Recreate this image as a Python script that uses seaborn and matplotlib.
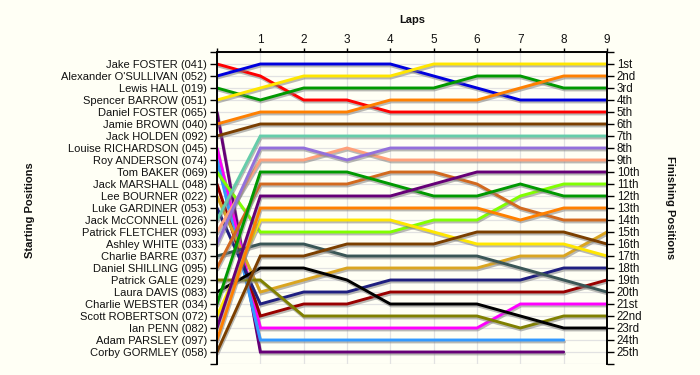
import matplotlib
matplotlib.use('Agg')
import matplotlib.pyplot as plt
import matplotlib.patheffects as pe
import numpy as np
import pandas as pd
import seaborn as sns

# ---------------- data ----------------
laps = list(range(10))

drivers = [
    "Jake FOSTER (041)", "Alexander O'SULLIVAN (052)", "Lewis HALL (019)",
    "Spencer BARROW (051)", "Daniel FOSTER (065)", "Jamie BROWN (040)",
    "Jack HOLDEN (092)", "Louise RICHARDSON (045)", "Roy ANDERSON (074)",
    "Tom BAKER (069)", "Jack MARSHALL (048)", "Lee BOURNER (022)",
    "Luke GARDINER (053)", "Jack McCONNELL (026)", "Patrick FLETCHER (093)",
    "Ashley WHITE (033)", "Charlie BARRE (037)", "Daniel SHILLING (095)",
    "Patrick GALE (029)", "Laura DAVIS (083)", "Charlie WEBSTER (034)",
    "Scott ROBERTSON (072)", "Ian PENN (082)", "Adam PARSLEY (097)",
    "Corby GORMLEY (058)",
]

colors = [
    "#FF0000", "#0000DD", "#009900", "#FFE600", "#660077", "#FF8000",
    "#7B3F00", "#FF00FF", "#3399FF", "#80FF00", "#990000", "#DAA520",
    "#1F1F80", "#66CDAA", "#FFA07A", "#9370DB", "#3A5656", "#D2691E",
    "#808000", "#000000", "#009900", "#FFE600", "#660077", "#FF8000",
    "#7B3F00",
]

nan = np.nan
positions = [
    [1, 2, 4, 4, 5, 5, 5, 5, 5, 5],
    [2, 1, 1, 1, 1, 2, 3, 4, 4, 4],
    [3, 4, 3, 3, 3, 3, 2, 2, 3, 3],
    [4, 3, 2, 2, 2, 1, 1, 1, 1, 1],
    [5, 25, 25, 25, 25, 25, 25, 25, 25, nan],
    [6, 5, 5, 5, 4, 4, 4, 3, 2, 2],
    [7, 6, 6, 6, 6, 6, 6, 6, 6, 6],
    [8, 23, 23, 23, 23, 23, 23, 21, 21, 21],
    [9, 24, 24, 24, 24, 24, 24, 24, 24, nan],
    [10, 15, 15, 15, 15, 14, 14, 12, 11, 11],
    [11, 22, 21, 21, 20, 20, 20, 20, 20, 19],
    [12, 20, 19, 18, 18, 18, 18, 17, 17, 15],
    [13, 21, 20, 20, 19, 19, 19, 19, 18, 18],
    [14, 7, 7, 7, 7, 7, 7, 7, 7, 7],
    [15, 9, 9, 8, 9, 9, 9, 9, 9, 9],
    [16, 8, 8, 9, 8, 8, 8, 8, 8, 8],
    [17, 16, 16, 17, 17, 17, 17, 18, 19, 20],
    [18, 11, 11, 11, 10, 10, 11, 13, 14, 14],
    [19, 19, 22, 22, 22, 22, 22, 23, 22, 22],
    [20, 18, 18, 19, 21, 21, 21, 22, 23, 23],
    [21, 10, 10, 10, 11, 12, 12, 11, 12, 12],
    [22, 14, 14, 14, 14, 15, 16, 16, 16, 17],
    [23, 12, 12, 12, 12, 11, 10, 10, 10, 10],
    [24, 13, 13, 13, 13, 13, 13, 14, 13, 13],
    [25, 17, 17, 16, 16, 16, 15, 15, 15, 16],
]

finish_labels = ["1st", "2nd", "3rd", "4th", "5th", "6th", "7th", "8th", "9th",
                 "10th", "11th", "12th", "13th", "14th", "15th", "16th", "17th",
                 "18th", "19th", "20th", "21st", "22nd", "23rd", "24th", "25th"]

# ---------------- build long table ----------------
rows = []
for d, pos in zip(drivers, positions):
    for lap, p in zip(laps, pos):
        if not np.isnan(p):
            rows.append({"driver": d, "lap": lap, "pos": p})
df = pd.DataFrame(rows)

# ---------------- style ----------------
sns.set_theme(style="white")
plt.rcParams['font.family'] = ['Liberation Sans', 'DejaVu Sans']
BG = "#FFFFF5"

fig = plt.figure(figsize=(7, 3.75), dpi=100, facecolor=BG)
ax = fig.add_axes([217 / 700, 1 - 364 / 375, 390 / 700, 312 / 375])
ax.set_facecolor(BG)

sns.lineplot(data=df, x="lap", y="pos", hue="driver", hue_order=drivers,
             palette=dict(zip(drivers, colors)), estimator=None, sort=False,
             legend=False, linewidth=2.1, ax=ax)

for line in ax.lines:
    line.set_path_effects([
        pe.SimpleLineShadow(offset=(0.6, -1.4), shadow_color="#808080", alpha=0.55),
        pe.Normal(),
    ])
    line.set_solid_joinstyle('miter')

ax.set_xlim(0, 9)
ax.set_ylim(26, 0)

# grid
ax.set_axisbelow(True)
ax.grid(True, color="#E2E2E2", linewidth=0.9)

# spines
for s in ["top", "left", "right"]:
    ax.spines[s].set_visible(True)
    ax.spines[s].set_color("black")
    ax.spines[s].set_linewidth(1.2)
ax.spines["bottom"].set_visible(False)

# top x axis
ax.xaxis.tick_top()
ax.set_xticks(laps)
ax.set_xticklabels([""] + [str(l) for l in laps[1:]])
ax.tick_params(axis="x", which="major", top=True, bottom=False, length=3,
               width=1, color="black", pad=1.5, labelsize=8.5, labelcolor="#111111")
ax.set_xlabel("")
ax.set_ylabel("")

# left y axis
ax.set_yticks(range(0, 27))
ax.set_yticklabels([""] + drivers + [""])
ax.tick_params(axis="y", which="major", left=True, length=5, width=1,
               color="black", pad=2, labelsize=8, labelcolor="#111111")

# right y axis
ax2 = ax.twinx()
ax2.set_ylim(26, 0)
ax2.set_yticks(range(0, 27))
ax2.set_yticklabels([""] + finish_labels + [""])
ax2.tick_params(axis="y", which="major", right=True, length=5, width=1,
                color="black", pad=2, labelsize=8.3, labelcolor="#111111")
ax2.grid(False)
for s in ["top", "left", "right"]:
    ax2.spines[s].set_color("black")
    ax2.spines[s].set_linewidth(1.2)
ax2.spines["bottom"].set_visible(False)

# titles
fig.text(412 / 700, 1 - 20 / 375, "Laps", ha="center", va="center",
         fontsize=8, fontweight="bold", color="#111111")
fig.text(30 / 700, 1 - 210 / 375, "Starting Positions", ha="center", va="center",
         rotation=90, fontsize=8, fontweight="bold", color="#111111")
fig.text(670 / 700, 1 - 208 / 375, "Finishing Positions", ha="center", va="center",
         rotation=270, fontsize=8, fontweight="bold", color="#111111")

fig.savefig("out.png", dpi=100, facecolor=BG)
